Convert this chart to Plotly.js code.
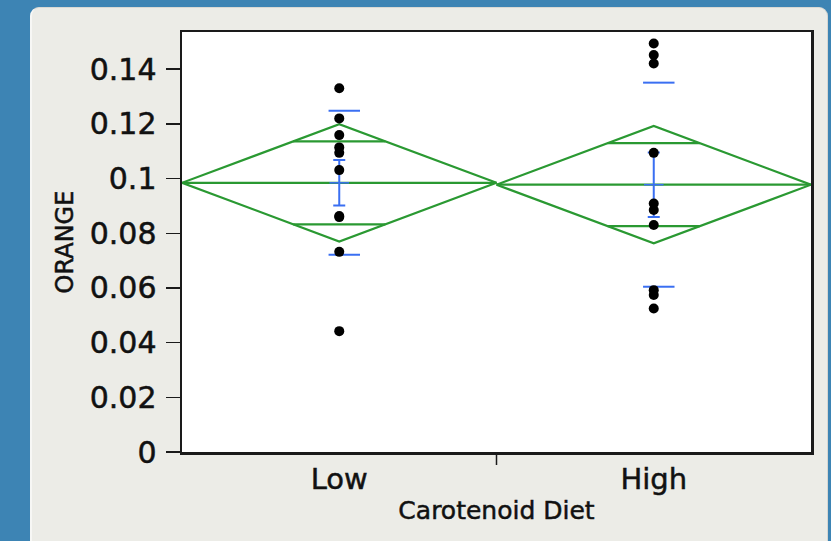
<!DOCTYPE html>
<html>
<head>
<meta charset="utf-8">
<script src="https://cdn.plot.ly/plotly-3.0.1.min.js"></script>
<style>
  html, body { margin: 0; padding: 0; }
  body { width: 831px; height: 541px; background: #3d84b4; position: relative; overflow: hidden; }
  #panel {
    position: absolute; left: 30px; top: 7px; width: 798px; height: 540px;
    background: #ecece7; border-radius: 9px 9px 0 0;
    border-left: 2px solid #f7f7f5; border-top: 1px solid #d9d9d4; border-right: 1px solid #d6d6d1;
    box-sizing: border-box;
  }
  #chart { position: absolute; left: 0; top: 0; width: 831px; height: 541px; }
  /* slightly heavier glyphs for the axis text */
  #chart .xtick text, #chart .ytick text, #chart .g-xtitle text, #chart .g-ytitle text {
    paint-order: stroke; stroke: #111; stroke-width: 0.5px;
  }
</style>
</head>
<body>
<div id="panel"></div>
<div id="chart"></div>
<script>
// ORANGE measurements by carotenoid diet group
const categories = ['Low', 'High'];
const lowValues  = [0.1330, 0.1220, 0.1159, 0.1114, 0.1094, 0.1031, 0.0863, 0.0859, 0.0732, 0.0442];
const highValues = [0.1494, 0.1452, 0.1421, 0.1094, 0.0909, 0.0885, 0.0830, 0.0592, 0.0574, 0.0525];
const yTickVals  = [0, 0.02, 0.04, 0.06, 0.08, 0.1, 0.12, 0.14];
const yTickText  = ['0', '0.02', '0.04', '0.06', '0.08', '0.1', '0.12', '0.14'];
// two-sided 95% t critical value for the pooled error degrees of freedom (n - k = 18)
const T_CRIT = 2.1009;

const groups = [lowValues, highValues];

function mean(a) { return a.reduce((s, v) => s + v, 0) / a.length; }
function sdev(a) {
  const m = mean(a);
  return Math.sqrt(a.reduce((s, v) => s + (v - m) * (v - m), 0) / (a.length - 1));
}

const means = groups.map(mean);
const sds = groups.map(sdev);
const ns = groups.map(g => g.length);
const nTotal = ns.reduce((s, v) => s + v, 0);
const pooledVar = groups.reduce((s, g, i) => s + sds[i] * sds[i] * (ns[i] - 1), 0) / (nTotal - groups.length);
const pooledSd = Math.sqrt(pooledVar);
const ciHalf = ns.map(n => T_CRIT * pooledSd / Math.sqrt(n));
const se = sds.map((s, i) => s / Math.sqrt(ns[i]));

const GREEN = '#2a9932';
const BLUE = '#3a6ff2';

// means diamonds, mean lines and overlap marks
const dx = [], dy = [];
groups.forEach((g, i) => {
  const m = means[i], h = ciHalf[i];
  dx.push(i - 0.5, i, i + 0.5, i, i - 0.5, null);
  dy.push(m, m + h, m, m - h, m, null);
  dx.push(i - 0.5, i + 0.5, null);
  dy.push(m, m, null);
  const ov = h / Math.SQRT2;
  const w = 0.5 * (1 - 1 / Math.SQRT2);
  dx.push(i - w, i + w, null, i - w, i + w, null);
  dy.push(m + ov, m + ov, null, m - ov, m - ov, null);
});

// standard deviation marks
const sx = [], sy = [];
groups.forEach((g, i) => {
  [means[i] + sds[i], means[i] - sds[i]].forEach(v => {
    sx.push(i - 0.034, i + 0.066, null);
    sy.push(v, v, null);
  });
});

// raw observations
const px = [], py = [];
groups.forEach((g, i) => g.forEach(v => { px.push(i); py.push(v); }));

const traces = [
  { x: dx, y: dy, mode: 'lines', line: { color: GREEN, width: 2.2 }, hoverinfo: 'skip', connectgaps: false },
  { x: sx, y: sy, mode: 'lines', line: { color: BLUE, width: 2 }, hoverinfo: 'skip', connectgaps: false },
  {
    x: [0, 1], y: means, mode: 'markers',
    marker: { symbol: 'line-ew', size: 14, color: BLUE, line: { color: BLUE, width: 1.5 } },
    error_y: { type: 'data', array: se, visible: true, color: BLUE, thickness: 2, width: 6 },
    hoverinfo: 'skip'
  },
  { x: px, y: py, mode: 'markers', marker: { color: '#000', size: 10 }, hoverinfo: 'y' }
];

const FONT = 'DejaVu Sans, Lucida Grande, sans-serif';

const layout = {
  width: 831, height: 541,
  paper_bgcolor: 'rgba(0,0,0,0)',
  plot_bgcolor: '#ffffff',
  showlegend: false,
  margin: { l: 182, r: 20, t: 32, b: 89, pad: 0 },
  font: { family: FONT, color: '#111' },
  xaxis: {
    range: [-0.5, 1.5],
    tickvals: [0, 1], ticktext: categories,
    ticks: '', showgrid: false, zeroline: false,
    showline: true, mirror: true, linecolor: '#1a1a1a', linewidth: 2.5,
    tickfont: { size: 29, color: '#111' },
    title: { text: 'Carotenoid Diet', font: { size: 25, color: '#111' }, standoff: 6 }
  },
  yaxis: {
    range: [0, 0.1536],
    tickvals: yTickVals, ticktext: yTickText,
    ticks: 'outside', ticklen: 14, tickwidth: 1.5, tickcolor: '#1a1a1a',
    showgrid: false, zeroline: false,
    showline: true, mirror: true, linecolor: '#1a1a1a', linewidth: 2.5,
    tickfont: { size: 30, color: '#111' },
    ticklabelstandoff: 3,
    title: { text: 'ORANGE', font: { size: 24, color: '#111' }, standoff: 10 }
  },
  shapes: [
    // divider tick between the two groups on the x axis
    { type: 'line', xref: 'x', yref: 'paper', x0: 0.5, x1: 0.5, y0: 0, y1: -0.031,
      line: { color: '#1a1a1a', width: 1.5 } }
  ]
};

Plotly.newPlot('chart', traces, layout, { staticPlot: true, displayModeBar: false });
</script>
</body>
</html>
